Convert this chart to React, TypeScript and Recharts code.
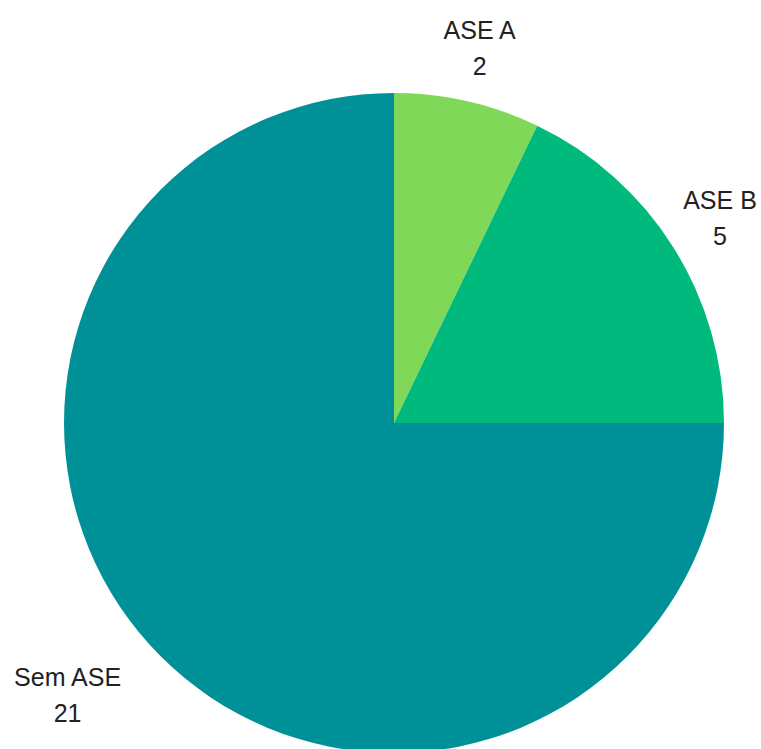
import React from 'react'
import { PieChart, Pie, Cell } from 'recharts'

const categories = ['ASE A', 'ASE B', 'Sem ASE']
const counts = [2, 5, 21]
const colors = ['#80d858', '#00b97c', '#009198']

const data = categories.map((name, i) => ({ name, value: counts[i] }))

const FONT_SIZE = 25
const FONT = `${FONT_SIZE}px "Liberation Sans", Arial, sans-serif`

function textWidth(s: string) {
  const ctx = document.createElement('canvas').getContext('2d')
  if (!ctx) return s.length * FONT_SIZE * 0.6
  ctx.font = FONT
  return ctx.measureText(s).width
}

const RADIAN = Math.PI / 180

function renderLabel(props: any) {
  const { cx, cy, midAngle, outerRadius, name, value } = props
  const r = outerRadius + 55
  const cos = Math.cos(-midAngle * RADIAN)
  const sin = Math.sin(-midAngle * RADIAN)
  let x = cx + r * cos
  const y = cy + r * sin
  if (cos < -0.1) {
    const w = Math.max(textWidth(name), textWidth(String(value)))
    x = x - w / 2
  }
  return (
    <g>
      <text x={x} y={y - 18} textAnchor="middle" dominantBaseline="central" fill="#222" style={{ font: FONT }}>
        {name}
      </text>
      <text x={x} y={y + 18} textAnchor="middle" dominantBaseline="central" fill="#222" style={{ font: FONT }}>
        {value}
      </text>
    </g>
  )
}

export default function App() {
  return (
    <div style={{ position: 'absolute', left: 0, top: 0, width: 761, height: 749, background: '#fff' }}>
      <PieChart width={761} height={749} margin={{ top: 0, right: 0, bottom: 0, left: 0 }}>
        <Pie
          data={data}
          dataKey="value"
          nameKey="name"
          cx={394}
          cy={423}
          outerRadius={330}
          startAngle={90}
          endAngle={-270}
          stroke="none"
          label={renderLabel}
          labelLine={false}
          isAnimationActive={false}
        >
          {data.map((d, i) => (
            <Cell key={d.name} fill={colors[i]} />
          ))}
        </Pie>
      </PieChart>
    </div>
  )
}
